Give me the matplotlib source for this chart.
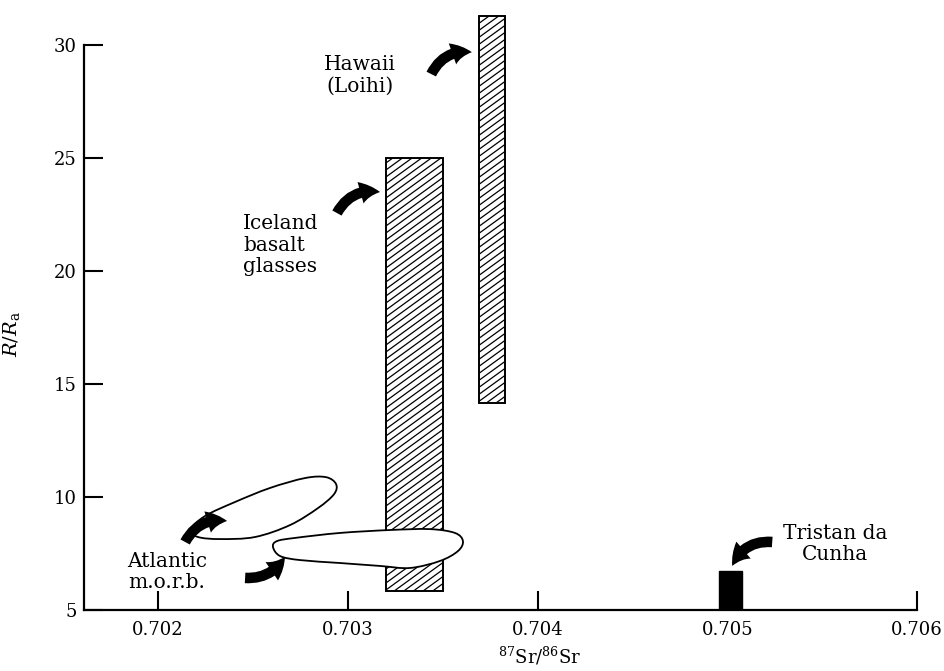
import numpy as np
import matplotlib
matplotlib.use("Agg")
import matplotlib.pyplot as plt
from matplotlib.patches import Rectangle, PathPatch, FancyArrowPatch
from matplotlib.path import Path
from matplotlib.collections import LineCollection
from matplotlib.transforms import IdentityTransform

plt.rcParams['font.family'] = ['DejaVu Serif']
plt.rcParams['mathtext.fontset'] = 'dejavuserif'

# ---- data: ranges of 87Sr/86Sr and R/Ra for each locality ----
bar_names = ["Iceland", "Hawaii", "Tristan"]
bar_x0 = [0.70320, 0.70369, 0.704958]
bar_x1 = [0.70350, 0.70383, 0.705076]
bar_y0 = [5.85, 14.15, 5.0]
bar_y1 = [25.0, 31.3, 6.74]
bar_fill = ["hatch", "hatch", "solid"]

# Atlantic MORB fields (closed outlines)
morb_a_x = [0.702169, 0.702211, 0.702327, 0.702511, 0.702696, 0.702843, 0.702928,
            0.702938, 0.702885, 0.702775, 0.702590, 0.702406, 0.702248]
morb_a_y = [8.54, 8.23, 8.14, 8.23, 8.76, 9.51, 10.13,
            10.58, 10.88, 10.84, 10.40, 9.78, 9.16]

morb_b_x = [0.702606, 0.702643, 0.702748, 0.702959, 0.703170, 0.703328, 0.703486,
            0.703581, 0.703607, 0.703565, 0.703433, 0.703223, 0.702959, 0.702722,
            0.702627]
morb_b_y = [7.79, 7.39, 7.21, 7.08, 6.95, 6.86, 7.17,
            7.61, 8.05, 8.41, 8.58, 8.54, 8.41, 8.19,
            8.05]

# labels and their arrows (tail -> head, in data units)
labels = ["Hawaii\n(Loihi)", "Iceland\nbasalt\nglasses", "Atlantic\nm.o.r.b.", "Tristan da\nCunha"]
label_x = [0.703065, 0.702448, 0.702047, 0.705568]
label_y = [28.67, 21.15, 6.68, 7.92]
label_ha = ["center", "left", "center", "center"]

arrow_tail = [(0.703440, 28.72), (0.702943, 22.57), (0.702143, 8.01), (0.702459, 6.42), (0.705237, 8.01)]
arrow_head = [(0.703654, 29.69), (0.703170, 23.50), (0.702364, 8.94), (0.702669, 7.35), (0.705026, 6.95)]
arrow_rad = [-0.35, -0.35, -0.35, 0.3, 0.35]

xticks = [0.702, 0.703, 0.704, 0.705, 0.706]
yticks = [5, 10, 15, 20, 25, 30]


def closed_spline_path(xs, ys):
    # periodic Catmull-Rom turned into cubic Bezier segments
    pts = np.column_stack([xs, ys])
    n = len(pts)
    verts = [pts[0]]
    codes = [Path.MOVETO]
    for i in range(n):
        p0, p1, p2, p3 = pts[i - 1], pts[i], pts[(i + 1) % n], pts[(i + 2) % n]
        c1 = p1 + (p2 - p0) / 6.0
        c2 = p2 - (p3 - p1) / 6.0
        verts += [c1, c2, p2]
        codes += [Path.CURVE4] * 3
    verts.append(pts[0])
    codes.append(Path.CLOSEPOLY)
    return Path(verts, codes)


def add_hatch(ax, rect, spacing=7.0, angle=36):
    # slanted hatch lines in pixel space, clipped to the rectangle
    (px0, py0), (px1, py1) = ax.transData.transform(
        [rect.get_xy(), (rect.get_x() + rect.get_width(), rect.get_y() + rect.get_height())])
    slope = np.tan(np.radians(angle))
    w = px1 - px0
    segs = []
    for c in np.arange(py0 - slope * w, py1 + spacing, spacing):
        segs.append([(px0, c), (px1, c + slope * w)])
    lc = LineCollection(segs, colors="black", linewidths=0.9,
                        transform=IdentityTransform(), zorder=2.5)
    ax.add_collection(lc, autolim=False)
    lc.set_clip_path(rect)


fig = plt.figure(figsize=(9.45, 6.71), dpi=100)
ax = fig.add_axes([84 / 945, 61 / 671, 833 / 945, 601 / 671])
ax.set_xlim(0.70161, 0.706)
ax.set_ylim(5, 31.6)

for x0, x1, y0, y1, fill in zip(bar_x0, bar_x1, bar_y0, bar_y1, bar_fill):
    if fill == "hatch":
        rect = Rectangle((x0, y0), x1 - x0, y1 - y0, facecolor="white",
                         edgecolor="black", linewidth=1.4, zorder=2)
        ax.add_patch(rect)
        add_hatch(ax, rect)
    else:
        ax.add_patch(Rectangle((x0, y0), x1 - x0, y1 - y0, facecolor="black",
                               edgecolor="black", linewidth=1.0, zorder=2))

for xs, ys in [(morb_a_x, morb_a_y), (morb_b_x, morb_b_y)]:
    ax.add_patch(PathPatch(closed_spline_path(xs, ys), facecolor="white",
                           edgecolor="black", linewidth=1.3, zorder=3))

for txt, x, y, ha in zip(labels, label_x, label_y, label_ha):
    ax.text(x, y, txt, ha=ha, va="center", fontsize=14.5, linespacing=1.15)

for tail, head, rad in zip(arrow_tail, arrow_head, arrow_rad):
    ax.add_patch(FancyArrowPatch(tail, head, connectionstyle=f"arc3,rad={rad}",
                                 arrowstyle="simple,head_length=0.7,head_width=0.8,tail_width=0.38",
                                 mutation_scale=20, color="black", linewidth=0,
                                 shrinkA=0, shrinkB=0, zorder=4))

ax.set_xticks(xticks)
ax.set_xticklabels([f"{t:.3f}" for t in xticks])
ax.set_yticks(yticks)
ax.tick_params(direction="in", length=14, width=1.5, labelsize=13)
ax.tick_params(axis="x", pad=8)
ax.tick_params(axis="y", pad=5)

for side in ["top", "right"]:
    ax.spines[side].set_visible(False)
for side in ["left", "bottom"]:
    ax.spines[side].set_linewidth(1.6)
ax.spines["left"].set_bounds(5, 30)

ax.set_xlabel(r"$^{87}$Sr/$^{86}$Sr", fontsize=13)
ax.xaxis.set_label_coords(0.547, -0.058)
ax.set_ylabel(r"$R/R_{\mathrm{a}}$", fontsize=14)
ax.yaxis.set_label_coords(-0.074, 0.46)

fig.savefig("out.png", dpi=100)
